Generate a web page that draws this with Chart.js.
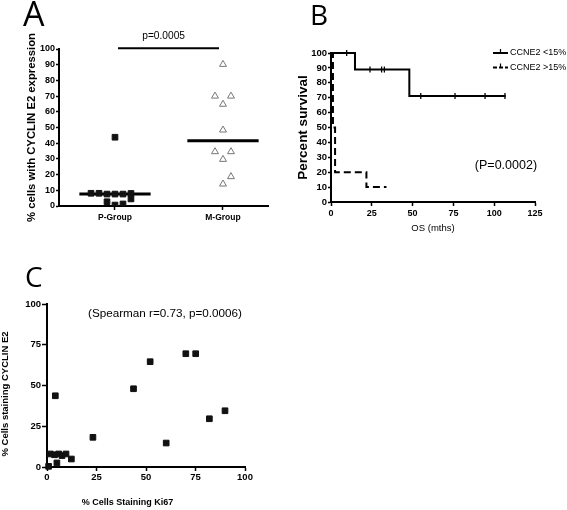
<!DOCTYPE html>
<html><head><meta charset="utf-8">
<script src="https://cdn.jsdelivr.net/npm/chart.js@4/dist/chart.umd.min.js"></script>
<style>
html,body{margin:0;padding:0;background:#fff;width:567px;height:510px;overflow:hidden;}
canvas{position:absolute;}
#cA{left:0;top:0;}
#cB{left:285px;top:0;}
#cC{left:0;top:255px;}
</style></head><body>
<canvas id="cA" width="283" height="255"></canvas>
<canvas id="cB" width="282" height="240"></canvas>
<canvas id="cC" width="265" height="255"></canvas>
<script>
// ---------- Panel A data ----------
const groupNames = ['P-Group', 'M-Group'];
const pGroupValues  = [8.1, 8.1, 7.6, 7.6, 7.6, 8.0, 4.5, 2.7, 0.6, 1.3, 43.8];
const pGroupColumns = [-3, -2, -1, 0, 1, 2, 2, -1, 0, 1, 0];
const mGroupValues  = [90.2, 70, 70, 64.8, 48.4, 34.6, 34.6, 29.7, 18.7, 14];
const mGroupColumns = [0, -1, 1, 0, 0, -1, 1, 0, 1, 0];
const groupMedians = [7.6, 41.6];
const panelAPValue = 'p=0.0005';
const panelATitle = '% cells with CYCLIN E2 expression';

// ---------- Panel B data ----------
const lowLabel = 'CCNE2 <15%';
const lowTimes    = [0, 14.7, 48, 107];
const lowSurvival = [100, 88.9, 71.1, 71.1];
const lowCensorTimes    = [9.6, 23.9, 31, 32.7, 55, 76, 94.4, 106.6];
const lowCensorSurvival = [100, 88.9, 88.9, 88.9, 71.1, 71.1, 71.1, 71.1];
const highLabel = 'CCNE2 >15%';
const highTimes    = [0, 1.2, 2.5, 21.7, 34];
const highSurvival = [100, 50, 20, 10, 10];
const panelBPValue = '(P=0.0002)';

// ---------- Panel C data ----------
const ki67Percent   = [0.8, 1.7, 3.8, 5.9, 7.6, 9.6, 12.3, 5.0, 4.2, 23.2, 43.7, 52.1, 60.2, 70.1, 75.1, 82.0, 89.9];
const cyclinPercent = [0.4, 8.0, 7.5, 8.0, 7.0, 8.0, 4.9, 2.5, 43.7, 18.2, 48.0, 64.6, 14.7, 69.5, 69.5, 29.6, 34.5];
const panelCStat = '(Spearman r=0.73, p=0.0006)';

Chart.defaults.font.family = '"Liberation Sans", Arial, sans-serif';
Chart.defaults.color = '#000';

function axis(o) {
  const a = {
    type: 'linear', min: o.min, max: o.max,
    border: {display: true, color: '#000', width: 2},
    grid: {display: true, drawOnChartArea: false, drawTicks: true, tickLength: o.tickLen, tickColor: '#000', tickWidth: 1.5, color: '#000'},
    ticks: {stepSize: o.step, color: '#000', padding: o.pad, font: {size: o.size, weight: 'bold'}, autoSkip: false, maxRotation: 0},
    title: o.title || {display: false},
    afterFit: o.fit
  };
  if (o.callback) a.ticks.callback = o.callback;
  if (o.abt) a.afterBuildTicks = o.abt;
  return a;
}
const base = {responsive: false, animation: false, events: [],
  plugins: {legend: {display: false}, tooltip: {enabled: false}}};

// ---------- Chart A ----------
const colW = 0.074;
const medHalf = 0.33;
new Chart(document.getElementById('cA'), {
  type: 'scatter',
  data: {datasets: [
    {data: pGroupValues.map((v, i) => ({x: 1 + pGroupColumns[i] * colW, y: v})),
     pointStyle: 'rect', pointRadius: 4, backgroundColor: '#111', borderColor: '#111', borderWidth: 1},
    {data: mGroupValues.map((v, i) => ({x: 2 + mGroupColumns[i] * colW * 1.0, y: v})),
     pointStyle: 'triangle', pointRadius: 4, backgroundColor: '#fff', borderColor: '#777', borderWidth: 1},
    ...groupMedians.map((m, i) => ({data: [{x: i + 1 - medHalf, y: m}, {x: i + 1 + medHalf, y: m}],
      showLine: true, pointRadius: 0, borderColor: '#000', borderWidth: 3, clip: false})),
    {data: [{x: 1.028, y: 100.4}, {x: 1.963, y: 100.4}], showLine: true, pointRadius: 0,
     borderColor: '#000', borderWidth: 2, clip: false}
  ]},
  options: Object.assign({}, base, {
    layout: {padding: {left: 0, top: 49, right: 15, bottom: 0}},
    scales: {
      x: axis({min: 0.4815, max: 2.4167, tickLen: 4, pad: 3, size: 8.5,
        abt: s => { s.ticks = groupNames.map((g, i) => ({value: i + 1})); },
        callback: (v, i) => groupNames[i],
        fit: s => { s.height = 49; }}),
      y: axis({min: 0, max: 100, step: 10, tickLen: 3, pad: 1, size: 9,
        title: {display: true, text: panelATitle, font: {size: 11.3, weight: 'bold'}, padding: {top: 25, bottom: 0}},
        fit: s => { s.width = 59; }})
    }
  }),
  plugins: [{id: 'txtA', afterDraw(chart) {
    const ctx = chart.ctx; ctx.save(); ctx.fillStyle = '#000';
    ctx.font = '34px "Open Sans"'; ctx.textAlign = 'left'; ctx.textBaseline = 'alphabetic';
    ctx.fillText('A', 23, 26);
    ctx.font = '10.2px "Liberation Sans"'; ctx.textAlign = 'center'; ctx.textBaseline = 'middle';
    ctx.fillText(panelAPValue, chart.scales.x.getPixelForValue(1.45), 36);
    ctx.restore();
  }}]
});

// ---------- Chart B ----------
const lowDash = [], highDash = [7, 4];
new Chart(document.getElementById('cB'), {
  type: 'scatter',
  data: {datasets: [
    {label: lowLabel, data: lowTimes.map((t, i) => ({x: t, y: lowSurvival[i]})), showLine: true, stepped: true,
     pointRadius: 0, borderColor: '#000', borderWidth: 2, borderDash: lowDash, clip: false},
    {label: highLabel, data: highTimes.map((t, i) => ({x: t, y: highSurvival[i]})), showLine: true, stepped: true,
     pointRadius: 0, borderColor: '#000', borderWidth: 2, borderDash: highDash, clip: false},
    {data: lowCensorTimes.map((t, i) => ({x: t, y: lowCensorSurvival[i]})), pointStyle: 'line', rotation: 90,
     pointRadius: 3, borderColor: '#000', borderWidth: 1.3, clip: false}
  ]},
  options: Object.assign({}, base, {
    layout: {padding: {left: 0, top: 53, right: 32, bottom: 0}},
    scales: {
      x: axis({min: 0, max: 125, step: 25, tickLen: 4, pad: 2, size: 9,
        title: {display: true, text: 'OS (mths)', font: {size: 9.5, weight: 'normal'}, padding: {top: 0, bottom: 6}},
        fit: s => { s.height = 38; }}),
      y: axis({min: 0, max: 100, step: 10, tickLen: 3, pad: 1, size: 9.5,
        title: {display: true, text: 'Percent survival', font: {size: 13.5, weight: 'bold'}, padding: {top: 10, bottom: 0}},
        fit: s => { s.width = 46; }})
    }
  }),
  plugins: [{id: 'txtB', afterDraw(chart) {
    const ctx = chart.ctx; ctx.save(); ctx.fillStyle = '#000'; ctx.strokeStyle = '#000';
    ctx.font = '28px "Open Sans"'; ctx.textAlign = 'left'; ctx.textBaseline = 'alphabetic';
    ctx.fillText('B', 25, 25);
    // legend
    const rows = [[lowLabel, lowDash, 53], [highLabel, [4, 2], 67.5]];
    ctx.font = '9px "Liberation Sans"'; ctx.textBaseline = 'middle';
    rows.forEach(([lab, dash, y]) => {
      ctx.lineWidth = 2; ctx.setLineDash(dash);
      ctx.beginPath(); ctx.moveTo(208, y); ctx.lineTo(223, y); ctx.stroke();
      ctx.setLineDash([]); ctx.lineWidth = 1.2;
      ctx.beginPath(); ctx.moveTo(215.5, y - 4); ctx.lineTo(215.5, y); ctx.stroke();
      ctx.fillText(lab, 225, y);
    });
    ctx.font = '12.5px "Liberation Sans"'; ctx.textAlign = 'center';
    ctx.fillText(panelBPValue, chart.scales.x.getPixelForValue(107.2), chart.scales.y.getPixelForValue(24.8));
    ctx.restore();
  }}]
});

// ---------- Chart C ----------
new Chart(document.getElementById('cC'), {
  type: 'scatter',
  data: {datasets: [
    {data: ki67Percent.map((k, i) => ({x: k, y: cyclinPercent[i]})), pointStyle: 'rect', pointRadius: 4,
     backgroundColor: '#111', borderColor: '#111', borderWidth: 1, clip: false}
  ]},
  options: Object.assign({}, base, {
    layout: {padding: {left: 0, top: 49, right: 20, bottom: 0}},
    scales: {
      x: axis({min: 0, max: 100, step: 25, tickLen: 4, pad: 1, size: 9.5, fit: s => { s.height = 43; }}),
      y: axis({min: 0, max: 100, step: 25, tickLen: 5, pad: 1, size: 9.5, fit: s => { s.width = 47; }})
    }
  }),
  plugins: [{id: 'txtC', afterDraw(chart) {
    const ctx = chart.ctx; ctx.save(); ctx.fillStyle = '#000';
    ctx.font = '28px "Open Sans"'; ctx.textAlign = 'left'; ctx.textBaseline = 'alphabetic';
    ctx.fillText('C', 25, 32);
    ctx.font = '11.7px "Liberation Sans"'; ctx.textAlign = 'center'; ctx.textBaseline = 'middle';
    ctx.fillText(panelCStat, 165, 59);
    ctx.font = 'bold 9px "Liberation Sans"';
    ctx.fillText('% Cells Staining Ki67', 127.5, 248);
    ctx.translate(5.5, 139); ctx.rotate(-Math.PI / 2);
    ctx.font = 'bold 9.5px "Liberation Sans"';
    ctx.fillText('% Cells staining CYCLIN E2', 0, 0);
    ctx.restore();
  }}]
});
</script>
</body></html>
